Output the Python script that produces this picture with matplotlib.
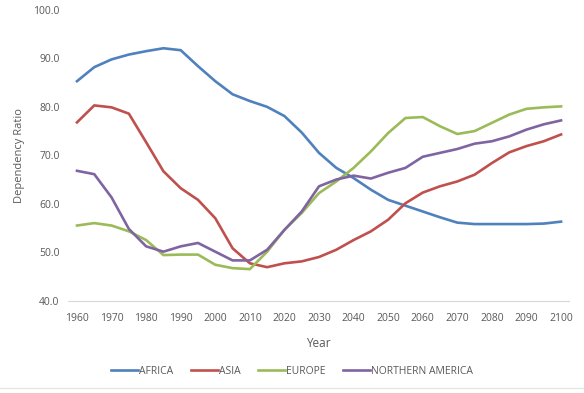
import numpy as np
import matplotlib.pyplot as plt
from matplotlib.lines import Line2D

years = list(range(1960, 2101, 5))

africa = [85.3, 88.2, 89.8, 90.8, 91.5, 92.1, 91.7, 88.4, 85.3, 82.6,
          81.2, 80.0, 78.1, 74.7, 70.5, 67.4, 65.3, 62.9, 60.8, 59.6,
          58.4, 57.2, 56.1, 55.8, 55.8, 55.8, 55.8, 55.9, 56.3]
asia = [76.8, 80.3, 79.9, 78.6, 72.7, 66.7, 63.2, 60.8, 57.0, 50.8,
        47.7, 46.9, 47.7, 48.1, 49.0, 50.5, 52.5, 54.3, 56.7, 60.1,
        62.3, 63.6, 64.6, 66.0, 68.4, 70.6, 71.9, 72.9, 74.3]
europe = [55.5, 56.0, 55.5, 54.3, 52.5, 49.4, 49.5, 49.5, 47.4, 46.7,
          46.5, 50.1, 54.6, 58.1, 62.2, 64.6, 67.4, 70.8, 74.6, 77.7,
          77.9, 76.0, 74.4, 75.0, 76.7, 78.4, 79.6, 79.9, 80.1]
n_america = [66.8, 66.1, 61.3, 54.8, 51.2, 50.1, 51.2, 51.9, 50.1, 48.3,
             48.3, 50.5, 54.6, 58.4, 63.6, 65.0, 65.8, 65.2, 66.4, 67.4,
             69.7, 70.5, 71.3, 72.4, 72.9, 73.9, 75.3, 76.4, 77.2]

series = [
    ('AFRICA', africa, '#4f81bd'),
    ('ASIA', asia, '#c0504d'),
    ('EUROPE', europe, '#9bbb59'),
    ('NORTHERN AMERICA', n_america, '#8064a2'),
]

plt.rcParams['font.family'] = ['Open Sans', 'DejaVu Sans']
grey = '#595959'

fig = plt.figure(figsize=(5.84, 3.93), dpi=100)
ax = fig.add_axes([68/584, 1 - 300.6/393, (569-68)/584, (300.6-10)/393])

for name, vals, col in series:
    ax.plot(years, vals, color=col, lw=1.9, label=name)

ax.set_xlim(1957.4, 2102.3)
ax.set_ylim(40, 100)
ax.set_xticks(range(1960, 2101, 10))
ax.set_yticks(range(40, 101, 10))
ax.set_yticklabels([f'{v:.1f}' for v in range(40, 101, 10)])
ax.tick_params(length=0, labelsize=7.5, colors=grey)
ax.tick_params(axis='x', pad=9)
ax.tick_params(axis='y', pad=6)
for s in ['top', 'right', 'left']:
    ax.spines[s].set_visible(False)
ax.spines['bottom'].set_color('#d9d9d9')
ax.set_xlabel('Year', fontsize=8.5, color=grey, labelpad=9)
ax.set_ylabel('Dependency Ratio', fontsize=8, color=grey, labelpad=6)

handles = [Line2D([], [], color=c, lw=1.9) for _, _, c in series]
fig.legend(handles, [n for n, _, _ in series], loc='center', ncol=4,
           bbox_to_anchor=(0.5, 1 - 371/393), frameon=False, fontsize=7.5,
           labelcolor=grey, handlelength=2.6, handletextpad=0.1, columnspacing=1.7)

fig.add_artist(Line2D([0, 1], [1 - 388/393] * 2, color='#e6e6e6', lw=1,
                      transform=fig.transFigure))

plt.savefig('out.png', dpi=100)
